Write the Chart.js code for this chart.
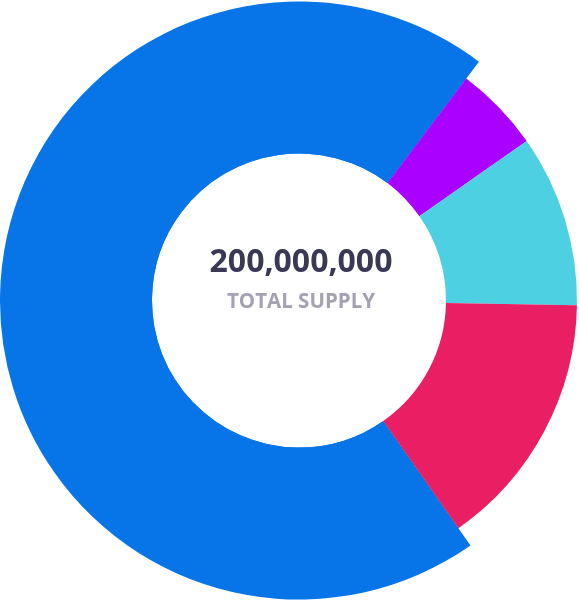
<!DOCTYPE html>
<html>
<head>
<meta charset="utf-8">
<script src="https://cdn.jsdelivr.net/npm/chart.js@4.4.0/dist/chart.umd.min.js"></script>
<style>
    html, body { margin: 0; padding: 0; overflow: hidden; background: #ffffff; }
    #wrap { position: relative; width: 598px; height: 601px; }
    .layer { position: absolute; left: 0; top: 0; width: 598px; height: 601px; }
    .center_label { position: absolute; left: 2px; width: 598px; text-align: center; font-family: "Open Sans", sans-serif; font-weight: 700; }
    #total_value { top: 238px; font-size: 32px; color: #393956; }
    #total_caption { top: 286px; font-size: 20.5px; color: #a2a2b2; }
</style>
</head>
<body>
<div id="wrap">
    <div class="layer"><canvas id="supply_chart_back"></canvas></div>
    <div class="layer"><canvas id="supply_chart"></canvas></div>
    <div class="center_label" id="total_value">200,000,000</div>
    <div class="center_label" id="total_caption">TOTAL SUPPLY</div>
</div>
<script>
// 配分の区分
const labels = ['Allocation A', 'Allocation B', 'Allocation C', 'Allocation D'];
// 各区分の数量
const amounts = [140000000, 10000000, 20000000, 30000000];
// 区分ごとの色
const colors = ['#0774e8', '#aa00ff', '#4dd0e1', '#e91e63'];

// 半径の設定(px)
const hole_radius = 147;
const ring_radius = 278;

// 共通オプションを作成
function make_options(radius, cutout_ratio){
    return {
        responsive: true,
        maintainAspectRatio: false,
        animation: false,
        rotation: 145,
        radius: radius,
        cutout: (cutout_ratio * 100) + '%',
        plugins: {
            legend: { display: false },
            tooltip: { enabled: false }
        }
    };
}

// 背面:最大の区分だけ一回り大きく描く
new Chart(document.getElementById('supply_chart_back').getContext('2d'), {
    type: 'doughnut',
    data: {
        labels: labels,
        datasets: [{
            data: amounts,
            backgroundColor: colors.map(function(c, i){ return i === 0 ? c : 'rgba(0,0,0,0)'; }),
            borderWidth: 0
        }]
    },
    options: make_options('100%', hole_radius / 299)
});

// 前面:全区分
new Chart(document.getElementById('supply_chart').getContext('2d'), {
    type: 'doughnut',
    data: {
        labels: labels,
        datasets: [{
            data: amounts,
            backgroundColor: colors,
            borderWidth: 0
        }]
    },
    options: make_options(ring_radius, hole_radius / ring_radius)
});
</script>
</body>
</html>
